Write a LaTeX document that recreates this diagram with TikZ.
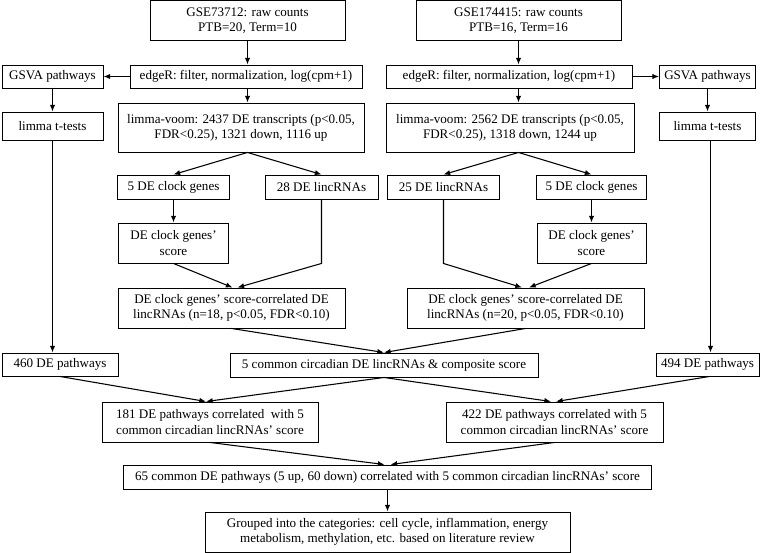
\documentclass[tikz,border=0pt]{standalone}
\usepackage{fontspec}
\setmainfont{Liberation Serif}
\usetikzlibrary{arrows.meta}
\newdimen\pxu \pxu=0.75pt

\begin{document}
\begin{tikzpicture}[x=0.75pt, y=-0.75pt,
    every node/.style={font=\fontsize{9.8}{11.3}\selectfont},
    box/.style={draw, line width=0.7pt, rectangle, align=center, inner sep=1pt},
    arr/.style={-{Latex[length=5pt,width=4pt]}, line width=0.8pt},
    ln/.style={line width=0.8pt}]
\useasboundingbox (0,0) rectangle (768,553);

% Raw counts
\node[box, minimum width=195\pxu, minimum height=40\pxu] (gseA) at (247.5,20.5) {GSE73712: raw counts\\PTB=20, Term=10};
\node[box, minimum width=205\pxu, minimum height=40\pxu] (gseB) at (518.5,20.5) {GSE174415: raw counts\\PTB=16, Term=16};

% Preprocessing
\node[box, minimum width=232\pxu, minimum height=23\pxu] (edgeA) at (246,76.5) {edgeR: filter, normalization, log(cpm+1)};
\node[box, minimum width=246\pxu, minimum height=23\pxu] (edgeB) at (509,76.5) {edgeR: filter, normalization, log(cpm+1)};
\node[box, minimum width=101\pxu, minimum height=23\pxu] (gsvaA) at (52.5,76.5) {GSVA pathways};
\node[box, minimum width=96\pxu, minimum height=23\pxu] (gsvaB) at (707.5,76.5) {GSVA pathways};
\node[box, minimum width=101\pxu, minimum height=28\pxu] (limmaA) at (52.5,126) {limma t-tests};
\node[box, minimum width=96\pxu, minimum height=28\pxu] (limmaB) at (707.5,126) {limma t-tests};

% DE transcripts
\node[box, minimum width=246\pxu, minimum height=49\pxu] (voomA) at (241,127.5) {limma-voom: 2437 DE transcripts (p<0.05,\\FDR<0.25), 1321 down, 1116 up};
\node[box, minimum width=248\pxu, minimum height=49\pxu] (voomB) at (510,127.5) {limma-voom: 2562 DE transcripts (p<0.05,\\FDR<0.25), 1318 down, 1244 up};

% Clock genes and lincRNAs
\node[box, minimum width=112\pxu, minimum height=24\pxu] (clockA) at (173.5,187) {5 DE clock genes};
\node[box, minimum width=113\pxu, minimum height=24\pxu] (lincA) at (321.5,187) {28 DE lincRNAs};
\node[box, minimum width=112\pxu, minimum height=24\pxu] (lincB) at (443.5,187) {25 DE lincRNAs};
\node[box, minimum width=110\pxu, minimum height=24\pxu] (clockB) at (591.5,187) {5 DE clock genes};
\node[box, minimum width=110\pxu, minimum height=40\pxu] (scoreA) at (173.5,243) {DE clock genes'\\score};
\node[box, minimum width=109\pxu, minimum height=40\pxu] (scoreB) at (591.5,243) {DE clock genes'\\score};
\node[box, minimum width=227\pxu, minimum height=40\pxu] (corrA) at (231.5,308) {DE clock genes' score-correlated DE\\lincRNAs (n=18, p<0.05, FDR<0.10)};
\node[box, minimum width=237\pxu, minimum height=40\pxu] (corrB) at (525.5,308) {DE clock genes' score-correlated DE\\lincRNAs (n=20, p<0.05, FDR<0.10)};

% Pathways
\node[box, minimum width=116\pxu, minimum height=23\pxu] (path460) at (60,364.5) {460 DE pathways};
\node[box, minimum width=308\pxu, minimum height=24\pxu] (common5) at (384,365) {5 common circadian DE lincRNAs \& composite score};
\node[box, minimum width=103\pxu, minimum height=23\pxu] (path494) at (707.5,364.5) {494 DE pathways};
\node[box, minimum width=216\pxu, minimum height=40\pxu] (corr181) at (210,422) {181 DE pathways correlated~ with 5\\common circadian lincRNAs' score};
\node[box, minimum width=217\pxu, minimum height=40\pxu] (corr422) at (554.5,422) {422 DE pathways correlated with 5\\common circadian lincRNAs' score};
\node[box, minimum width=528\pxu, minimum height=24\pxu] (common65) at (387.5,477) {65 common DE pathways (5 up, 60 down) correlated with 5 common circadian lincRNAs' score};
\node[box, minimum width=365\pxu, minimum height=40\pxu] (grouped) at (387.5,532) {Grouped into the categories: cell cycle, inflammation, energy\\metabolism, methylation, etc. based on literature review};

% Arrows, left data set
\draw[arr] (gseA.south) -- (gseA.south |- edgeA.north);
\draw[arr] (edgeA.west) -- (gsvaA.east);
\draw[arr] (gsvaA.south) -- (limmaA.north);
\draw[arr] (limmaA.south) -- (limmaA.south |- path460.north);
\draw[arr] (gseA.south |- edgeA.south) -- (gseA.south |- voomA.north);
\draw[arr] (gseA.south |- voomA.south) -- (clockA.north);
\draw[arr] (gseA.south |- voomA.south) -- (lincA.north);
\draw[arr] (clockA.south) -- (scoreA.north);
\draw[arr] (scoreA.south) -- ([xshift=1\pxu]corrA.north);
\draw[arr] (lincA.south) -- (lincA.south |- scoreA.south) -- ([xshift=6\pxu]corrA.north);
\draw[arr] (corrA.south) -- (common5.north);

% Arrows, right data set
\draw[arr] (gseB.south) -- (gseB.south |- edgeB.north);
\draw[arr] (edgeB.east) -- (gsvaB.west);
\draw[arr] (gsvaB.south) -- (limmaB.north);
\draw[arr] ([xshift=3\pxu]limmaB.south) -- ([xshift=3\pxu]limmaB.south |- path494.north);
\draw[arr] (gseB.south |- edgeB.south) -- (gseB.south |- voomB.north);
\draw[arr] (gseB.south |- voomB.south) -- (lincB.north);
\draw[arr] (gseB.south |- voomB.south) -- (clockB.north);
\draw[arr] (clockB.south) -- (scoreB.north);
\draw[arr] (scoreB.south) -- ([xshift=3.5\pxu]corrB.north);
\draw[arr] (lincB.south) -- (lincB.south |- scoreB.south) -- ([xshift=-3.5\pxu]corrB.north);
\draw[arr] (corrB.south) -- (common5.north);

% Arrows, pathways
\draw[arr] (path460.south) -- ([xshift=-4\pxu]corr181.north);
\draw[arr] (common5.south) -- ([xshift=-4\pxu]corr181.north);
\draw[arr] (common5.south) -- ([xshift=-3.5\pxu]corr422.north);
\draw[arr] ([xshift=2\pxu]path494.south) -- ([xshift=1.5\pxu]corr422.north);
\draw[arr] (corr181.south) -- ([xshift=-3\pxu]common65.north);
\draw[arr] (corr422.south) -- ([xshift=3\pxu]common65.north);
\draw[arr] (common65.south) -- (grouped.north);
\end{tikzpicture}
\end{document}
